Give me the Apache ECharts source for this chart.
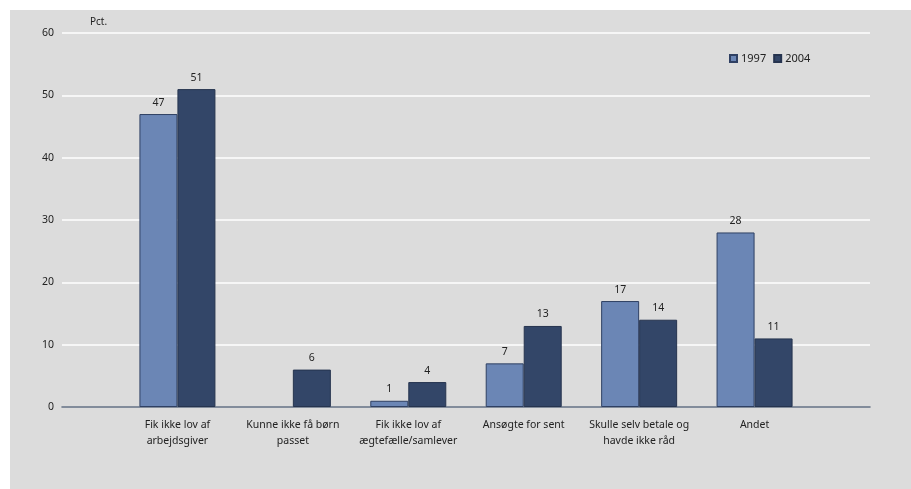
<!DOCTYPE html>
<html>
<head>
<meta charset="utf-8">
<script src="https://cdn.jsdelivr.net/npm/echarts@6/dist/echarts.min.js"></script>
<style>
  html, body { margin: 0; padding: 0; background: #ffffff; }
  #chart { position: absolute; left: 10px; top: 10px; width: 901px; height: 479px; }
</style>
</head>
<body>
<div id="chart"></div>
<script>
// Reasons for not taking leave, share in percent, 1997 vs 2004.
// Empty slots at both ends keep the groups centred on the axis ticks.
const categories = [
  '',
  'Fik ikke lov af\narbejdsgiver',
  'Kunne ikke få børn\npasset',
  'Fik ikke lov af\nægtefælle/samlever',
  'Ansøgte for sent',
  'Skulle selv betale og\nhavde ikke råd',
  'Andet',
  ''
];
const values1997 = [null, 47, null, 1, 7, 17, 28, null];
const values2004 = [null, 51, 6, 4, 13, 14, 11, null];
const seriesNames = ['1997', '2004'];
const yTicks = { min: 0, max: 60, interval: 10 };

const font = 'Noto Sans';
const textColor = '#222222';

const chart = echarts.init(document.getElementById('chart'));
chart.setOption({
  backgroundColor: '#dcdcdc',
  animation: false,
  textStyle: { fontFamily: font },
  title: {
    text: 'Pct.',
    left: 75,
    top: 2,
    textStyle: { fontFamily: font, fontSize: 10, fontWeight: 'normal', color: textColor }
  },
  legend: {
    data: seriesNames,
    left: 714,
    top: 38,
    itemWidth: 7,
    itemHeight: 7,
    itemGap: 7,
    icon: 'rect',
    textStyle: { fontFamily: font, fontSize: 11, color: textColor, padding: [0, 0, 0, -1] }
  },
  grid: { left: 52, right: 41, top: 23, bottom: 82, containLabel: false },
  xAxis: {
    type: 'category',
    data: categories,
    boundaryGap: false,
    axisLine: { lineStyle: { color: '#5c6a7e', width: 1.5 } },
    axisTick: { show: false },
    axisLabel: {
      interval: 0,
      margin: 10,
      fontFamily: font,
      fontSize: 10.5,
      lineHeight: 16,
      color: textColor
    },
    splitLine: { show: false }
  },
  yAxis: {
    type: 'value',
    min: yTicks.min,
    max: yTicks.max,
    interval: yTicks.interval,
    axisLine: { show: false },
    axisTick: { show: false },
    axisLabel: { margin: 8, fontFamily: font, fontSize: 10.5, color: textColor },
    splitLine: { lineStyle: { color: '#ffffff', width: 1.5 } }
  },
  series: [
    {
      name: seriesNames[0],
      type: 'bar',
      data: values1997,
      barWidth: 38,
      barGap: '0%',
      itemStyle: { color: '#6b86b5', borderColor: '#2f4063', borderWidth: 1 },
      label: { show: true, position: 'top', distance: 6, fontFamily: font, fontSize: 10.5, color: textColor }
    },
    {
      name: seriesNames[1],
      type: 'bar',
      data: values2004,
      barWidth: 38,
      barGap: '0%',
      itemStyle: { color: '#334668', borderColor: '#26344f', borderWidth: 1 },
      label: { show: true, position: 'top', distance: 6, fontFamily: font, fontSize: 10.5, color: textColor }
    }
  ]
});
</script>
</body>
</html>
